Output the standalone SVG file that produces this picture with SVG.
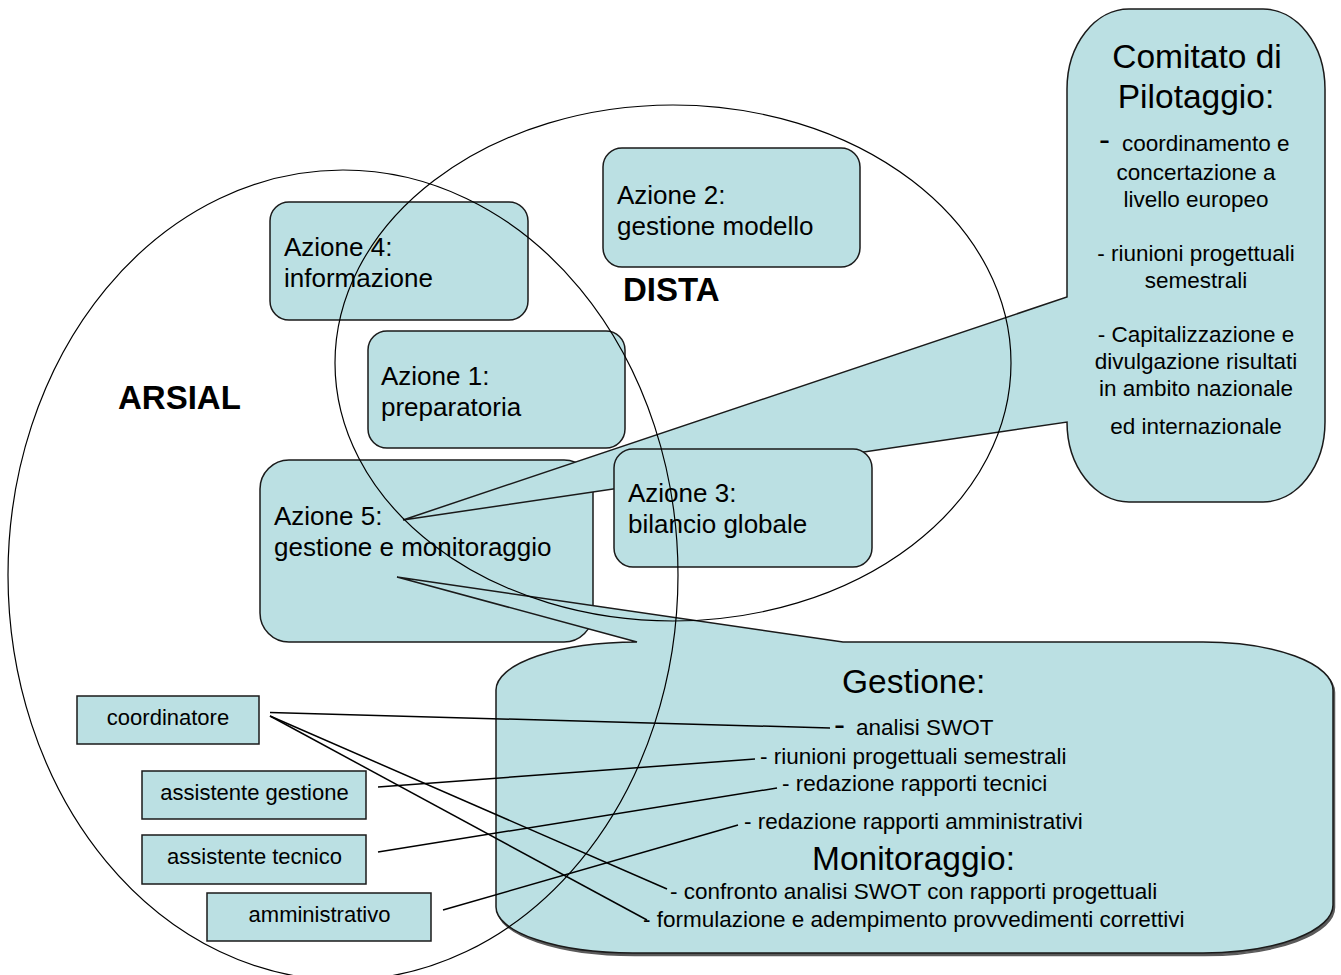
<svg xmlns="http://www.w3.org/2000/svg" width="1341" height="975" viewBox="0 0 1341 975">
<style>
.box{fill:#BBE0E3;stroke:#1a1a1a;stroke-width:1.5}
.ell{fill:none;stroke:#000;stroke-width:1.2}
.con{stroke:#000;stroke-width:1.5;fill:none}
text{font-family:"Liberation Sans",Arial,sans-serif;fill:#000}
.az{font-size:26px}
.lab{font-size:33px;font-weight:bold}
.ttl{font-size:33.5px}
.body{font-size:22.5px}
.sm{font-size:22px;text-anchor:middle}
.mid{text-anchor:middle}
</style>
<rect width="1341" height="975" fill="#fff"/>

<g id="azione5">
<rect class="box" x="260" y="460" width="333" height="182" rx="29"/>
<text class="az" x="274" y="525">Azione 5:</text>
<text class="az" x="274" y="556">gestione e monitoraggio</text>
</g>

<g id="gestione-callout">
<path d="M 637,644 L 1203,644 A 130 48 0 0 1 1333,692 L 1333,907 A 130 48 0 0 1 1203,955 L 633,955 A 137 46 0 0 1 496,909 L 496,692 A 141 48 0 0 1 637,644 Z" transform="translate(1.5,0.5)" fill="#5a5a5a" stroke="#5a5a5a" stroke-width="1.5"/>
<path class="box" d="M 637,642 L 397,577 L 843,642 L 1203,642 A 130 48 0 0 1 1333,690 L 1333,905 A 130 48 0 0 1 1203,953 L 633,953 A 137 46 0 0 1 496,907 L 496,690 A 141 48 0 0 1 637,642 Z"/>
<text class="ttl" x="842" y="693">Gestione:</text>
<text style="font-size:33px" x="834" y="736">-</text>
<text class="body" x="856" y="735">analisi SWOT</text>
<text class="body" x="760" y="764">- riunioni progettuali semestrali</text>
<text class="body" x="782" y="791">- redazione rapporti tecnici</text>
<text class="body" x="744" y="829">- redazione rapporti amministrativi</text>
<text class="ttl" x="812" y="870">Monitoraggio:</text>
<text class="body" x="670" y="899">- confronto analisi SWOT con rapporti progettuali</text>
<text class="body" x="643" y="927">- formulazione e adempimento provvedimenti correttivi</text>
</g>

<g id="comitato-callout">
<path class="box" d="M 1129,9 L 1263,9 A 62 80 0 0 1 1325,89 L 1325,422 A 62 80 0 0 1 1263,502 L 1129,502 A 62 80 0 0 1 1067,422 L 403,520 L 1067,297 L 1067,89 A 62 80 0 0 1 1129,9 Z"/>
<text class="ttl mid" x="1197" y="68">Comitato di</text>
<text class="ttl mid" x="1196" y="108">Pilotaggio:</text>
<text style="font-size:33px" x="1099" y="151">-</text>
<text class="body" x="1122" y="151">coordinamento e</text>
<text class="body mid" x="1196" y="180">concertazione a</text>
<text class="body mid" x="1196" y="207">livello europeo</text>
<text class="body mid" x="1196" y="261">- riunioni progettuali</text>
<text class="body mid" x="1196" y="288">semestrali</text>
<text class="body mid" x="1196" y="342">- Capitalizzazione e</text>
<text class="body mid" x="1196" y="369">divulgazione risultati</text>
<text class="body mid" x="1196" y="396">in ambito nazionale</text>
<text class="body mid" x="1196" y="434">ed internazionale</text>
</g>

<g id="azione4">
<rect class="box" x="270" y="202" width="258" height="118" rx="19"/>
<text class="az" x="284" y="256">Azione 4:</text>
<text class="az" x="284" y="287">informazione</text>
</g>

<g id="azione1">
<rect class="box" x="368" y="331" width="257" height="117" rx="19"/>
<text class="az" x="381" y="385">Azione 1:</text>
<text class="az" x="381" y="416">preparatoria</text>
</g>

<g id="azione2">
<rect class="box" x="603" y="148" width="257" height="119" rx="19"/>
<text class="az" x="617" y="204">Azione 2:</text>
<text class="az" x="617" y="235">gestione modello</text>
</g>

<g id="azione3">
<rect class="box" x="614" y="449" width="258" height="118" rx="19"/>
<text class="az" x="628" y="502">Azione 3:</text>
<text class="az" x="628" y="533">bilancio globale</text>
</g>

<g id="coordinatore">
<rect class="box" x="77" y="696" width="182" height="48"/>
<text class="sm" x="168" y="725">coordinatore</text>
</g>
<g id="assistente-gestione">
<rect class="box" x="142" y="771" width="224" height="48"/>
<text class="sm" x="254.5" y="800">assistente gestione</text>
</g>
<g id="assistente-tecnico">
<rect class="box" x="142" y="835" width="224" height="49"/>
<text class="sm" x="254.5" y="864">assistente tecnico</text>
</g>
<g id="amministrativo">
<rect class="box" x="207" y="893" width="224" height="48"/>
<text class="sm" x="319.5" y="922">amministrativo</text>
</g>

<g id="arsial">
<ellipse class="ell" cx="343" cy="575" rx="335" ry="405"/>
<text class="lab" x="118" y="409">ARSIAL</text>
</g>
<g id="dista">
<ellipse class="ell" cx="673" cy="363" rx="338" ry="258"/>
<text class="lab" x="623" y="301">DISTA</text>
</g>

<g id="connectors">
<line class="con" x1="270" y1="712.5" x2="830" y2="728"/>
<line class="con" x1="270" y1="716" x2="667" y2="889"/>
<line class="con" x1="270" y1="716" x2="647" y2="920"/>
<line class="con" x1="378" y1="787" x2="755" y2="759"/>
<line class="con" x1="378" y1="852" x2="777" y2="788"/>
<line class="con" x1="443" y1="910" x2="738" y2="825"/>
</g>
</svg>
